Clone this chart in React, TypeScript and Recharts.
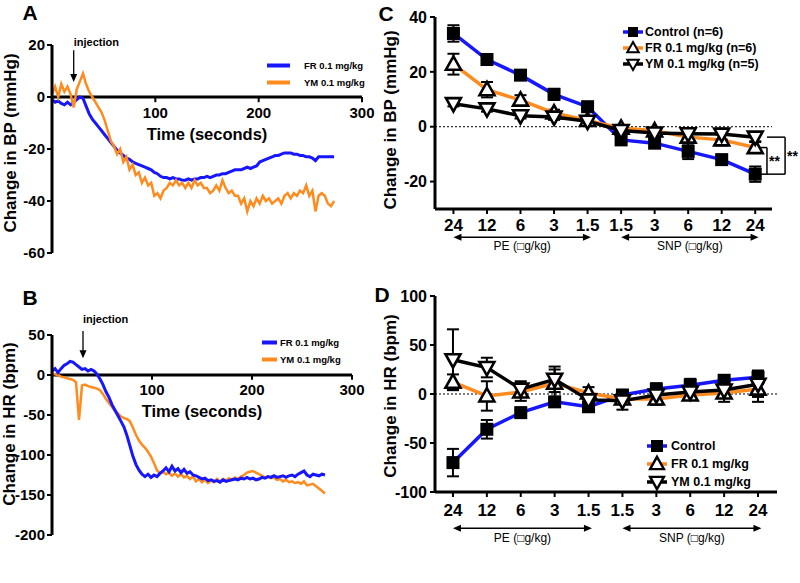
import React from "react";
import { ErrorBar, Legend, Line, LineChart, ReferenceLine, XAxis, YAxis } from "recharts";

const FONT = '"Liberation Sans", Arial, Helvetica, sans-serif';
const BLUE = "#1616ff";
const ORANGE = "#ff8b1e";
const BLACK = "#000";

// traces are sampled every 3 s: t = 0, 3, 6 ... 273
const SAMPLE_SEC = 3;

// A: change in BP (mmHg)
const bpTraceFR = [
  -1, -2, -1.5, -2.5, -3, -2, -3, -2, -1, 0,
  -0.5, -3.5, -6.5, -8.5, -10, -11.5, -13, -14.5, -16, -17.5,
  -19, -20.5, -21.5, -22.5, -23.5, -24, -25, -25.5, -26, -26.5,
  -27, -27.5, -28, -29, -29.5, -30.5, -31, -31, -31.5, -31,
  -31.5, -31.5, -32, -32, -31.5, -32, -31.5, -31.5, -31, -31,
  -30.5, -31, -30.5, -30, -30, -29.5, -29.5, -29, -28.5, -28,
  -28, -28, -27.5, -27, -27.5, -27, -26.5, -25, -24.5, -24,
  -23.5, -23, -22.5, -22.5, -22, -21.5, -21.5, -21.5, -22, -22,
  -22.5, -22.5, -23, -23, -23.5, -24.5, -23, -23, -23, -23,
  -23, -23,
];
const bpTraceYM = [
  1, 4, 0, 5, 2, 4, 1, -4, 3, 6,
  9, 5, 2, 0, -2, -4, -6, -9, -13, -17,
  -19, -22, -20, -25, -23, -28, -26, -30, -29, -33,
  -31, -34, -33, -38, -37, -39, -36, -35, -33, -34,
  -32, -34, -33, -35, -33, -35, -32, -34, -33, -35,
  -35, -37, -36, -34, -36, -32, -35, -37, -36, -38,
  -38, -41, -39, -44, -40, -42, -39, -41, -38, -40,
  -39, -41, -40, -39, -41, -38, -37, -39, -37, -38,
  -36, -37, -34, -38, -36, -44, -38, -37, -38, -41,
  -42, -40,
];

// B: change in HR (bpm)
const hrTraceFR = [
  5, 8, 3, 8, 12, 14, 17, 16, 13, 10,
  7, 8, 5, 7, 5, 1, -5, -12, -21, -28,
  -37, -44, -51, -58, -65, -76, -89, -102, -112, -119,
  -124, -127, -124, -128, -125, -127, -123, -120, -116, -121,
  -114, -120, -117, -122, -118, -123, -121, -125, -126, -128,
  -130, -129, -132, -131, -133, -132, -134, -131, -133, -132,
  -131, -130, -131, -129, -130, -128, -130, -129, -131, -130,
  -128, -129, -127, -128, -126, -128, -127, -126, -128, -126,
  -125, -127, -124, -122, -120, -125, -127, -124, -125, -126,
  -124, -125,
];
const hrTraceYM = [
  2, 1, 0, -2, -3, -4, -5, -6, -9, -56,
  -13, -12, -14, -15, -16, -17, -19, -24, -30, -35,
  -40, -45, -48, -52, -54, -55, -58, -66, -75, -82,
  -87, -91, -96, -102, -110, -119, -123, -121, -124, -122,
  -126, -123, -127, -124, -128, -126, -130, -127, -133, -130,
  -134, -131, -135, -132, -134, -130, -133, -130, -132, -129,
  -131, -128, -130, -127, -125, -122, -121, -120, -122, -124,
  -126, -128, -127, -129, -128, -131, -130, -133, -131, -134,
  -133, -135, -134, -136, -133, -138, -137, -136, -139, -142,
  -145, -148,
];

const timeTicks = [100, 200, 300];
const bpTraceTicks = [-60, -40, -20, 0, 20];
const hrTraceTicks = [-200, -150, -100, -50, 0, 50];

// C / D: dose response, mean and SEM
const doseLabels = ["24", "12", "6", "3", "1.5", "1.5", "3", "6", "12", "24"];
const doseGroups = ["PE (\u25A1g/kg)", "SNP (\u25A1g/kg)"];

const bpControl = [34, 24.5, 18.8, 11.8, 7.3, -4.8, -6, -9, -12, -17.3];
const bpControlSem = [3, 1.2, 1.5, 2, 1.2, 1.5, 1.5, 2.8, 1.5, 2.8];
const bpFR = [22.8, 13.5, 9.7, 5, 2.3, -0.5, -1.5, -3.8, -4.8, -7.6];
const bpFRSem = [3.8, 2.8, 1.8, 1.2, 1.2, 1, 1, 2, 2, 2];
const bpYM = [8.4, 6.5, 4, 3.5, 2, -1.4, -2.3, -2.6, -2.7, -3.8];
const bpYMSem = [1, 1, 1, 1, 1, 1, 1, 2, 2, 1.5];

const hrControl = [-70, -36, -19, -8, -13, -1, 5, 9, 14, 17];
const hrControlSem = [14, 9.5, 3, 3, 3, 3, 6, 6.5, 4, 7];
const hrFR = [12, -2, 2, 11, 1, -5, -5, -1, 1, 5];
const hrFRSem = [8, 15, 9, 14, 6, 4, 6, 5, 9, 13];
const hrYM = [35, 27, 5, 15, -6, -7, -1, 2, 4, 10];
const hrYMSem = [31, 10, 8, 13, 4, 9, 8, 6, 6, 13];

const bpDoseTicks = [-20, 0, 20, 40];
const hrDoseTicks = [-100, -50, 0, 50, 100];
const doseIdx = doseLabels.map((_, i) => i);

type MarkerKind = "square" | "up" | "down";
type LegendItem = { label: string; color: string; marker?: MarkerKind };

const traceLegend: LegendItem[] = [
  { label: "FR 0.1 mg/kg", color: BLUE },
  { label: "YM 0.1 mg/kg", color: ORANGE },
];
const bpDoseLegend: LegendItem[] = [
  { label: "Control (n=6)", color: BLUE, marker: "square" },
  { label: "FR 0.1 mg/kg (n=6)", color: ORANGE, marker: "up" },
  { label: "YM 0.1 mg/kg (n=5)", color: BLACK, marker: "down" },
];
const hrDoseLegend: LegendItem[] = [
  { label: "Control", color: BLUE, marker: "square" },
  { label: "FR 0.1 mg/kg", color: ORANGE, marker: "up" },
  { label: "YM 0.1 mg/kg", color: BLACK, marker: "down" },
];

function Marker({ kind, cx, cy, r }: { kind: MarkerKind; cx: number; cy: number; r: number }) {
  if (kind === "square") {
    return <rect x={cx - r} y={cy - r} width={2 * r} height={2 * r} fill={BLACK} />;
  }
  const s = kind === "up" ? 1 : -1;
  const pts = `${cx},${cy - s * r * 1.2} ${cx + r * 1.15},${cy + s * r * 0.85} ${cx - r * 1.15},${cy + s * r * 0.85}`;
  return <polygon points={pts} fill="#fff" stroke={BLACK} strokeWidth={r * 0.4} strokeLinejoin="miter" />;
}

function LegendList(props: {
  items: LegendItem[];
  swatch: number;
  gap: number;
  row: number;
  fontSize: number;
  lineWidth: number;
  markerR?: number;
}) {
  const { items, swatch, gap, row, fontSize, lineWidth, markerR = 5 } = props;
  return (
    <div style={{ fontFamily: FONT, fontWeight: "bold", fontSize, color: BLACK }}>
      {items.map((it) => (
        <div key={it.label} style={{ display: "flex", alignItems: "center", height: row, whiteSpace: "nowrap" }}>
          <svg width={swatch} height={row} style={{ marginRight: gap, overflow: "visible" }}>
            <line x1={0} x2={swatch} y1={row / 2} y2={row / 2} stroke={it.color} strokeWidth={lineWidth} />
            {it.marker && <Marker kind={it.marker} cx={swatch / 2} cy={row / 2} r={markerR} />}
          </svg>
          <span>{it.label}</span>
        </div>
      ))}
    </div>
  );
}

const arrowHead = (gap: number) => (p: any) => {
  const x = p.x1;
  const top = Math.min(p.y1, p.y2);
  const tip = Math.max(p.y1, p.y2);
  return (
    <g>
      <line x1={x} y1={top} x2={x} y2={tip - 6} stroke={BLACK} strokeWidth={1.3} />
      <polygon points={`${x - 3.5},${tip - 8} ${x + 3.5},${tip - 8} ${x},${tip}`} fill={BLACK} />
      <text x={x} y={top - gap} fontSize={11} fontWeight="bold" fill={BLACK}>
        injection
      </text>
    </g>
  );
};

const DoseArrow = (p: any) => {
  const x1 = Math.min(p.x1, p.x2);
  const x2 = Math.max(p.x1, p.x2);
  const y = p.y1;
  return (
    <g>
      <line x1={x1 + 6} y1={y} x2={x2 - 6} y2={y} stroke={BLACK} strokeWidth={1.3} />
      <polygon points={`${x1},${y} ${x1 + 8},${y - 3.5} ${x1 + 8},${y + 3.5}`} fill={BLACK} />
      <polygon points={`${x2},${y} ${x2 - 8},${y - 3.5} ${x2 - 8},${y + 3.5}`} fill={BLACK} />
    </g>
  );
};

type Margin = { top: number; right: number; bottom: number; left: number };

function TraceChart(p: {
  fr: number[];
  ym: number[];
  height: number;
  margin: Margin;
  yDomain: [number, number];
  yTicks: number[];
  tickDrop: number;
  timeLabelOffset: number;
  injection: { t: number; from: number; to: number; gap: number };
  legend: { left: number; top: number; swatch: number; gap: number };
  blueOnTop?: boolean;
}) {
  const rows = p.fr.map((v, i) => ({ t: i * SAMPLE_SEC, fr: v, ym: p.ym[i] }));
  const blue = <Line key="fr" dataKey="fr" stroke={BLUE} strokeWidth={3} dot={false} activeDot={false} isAnimationActive={false} />;
  const orange = <Line key="ym" dataKey="ym" stroke={ORANGE} strokeWidth={2.5} dot={false} activeDot={false} isAnimationActive={false} />;
  return (
    <LineChart width={400} height={p.height} data={rows} margin={p.margin}>
      <XAxis dataKey="t" type="number" domain={[0, 300]} allowDataOverflow hide />
      <YAxis
        domain={p.yDomain}
        ticks={p.yTicks}
        interval={0}
        allowDataOverflow
        width={52}
        axisLine={{ stroke: BLACK, strokeWidth: 3 }}
        tickLine={{ stroke: BLACK, strokeWidth: 2 }}
        tickSize={5}
        tickMargin={2}
        tick={{ fill: BLACK, fontSize: 15, fontWeight: "bold" }}
      />
      <ReferenceLine
        y={0}
        stroke={BLACK}
        strokeWidth={3}
        label={{ value: "Time (seconds)", position: "bottom", offset: p.timeLabelOffset, fill: BLACK, fontSize: 16.5, fontWeight: "bold" }}
      />
      {timeTicks.map((v) => (
        <ReferenceLine
          key={v}
          segment={[{ x: v, y: 0 }, { x: v, y: -p.tickDrop }]}
          ifOverflow="visible"
          stroke={BLACK}
          strokeWidth={2}
          label={{ value: String(v), position: "bottom", offset: 5, fill: BLACK, fontSize: 15, fontWeight: "bold" }}
        />
      ))}
      <ReferenceLine
        segment={[{ x: p.injection.t, y: p.injection.from }, { x: p.injection.t, y: p.injection.to }]}
        ifOverflow="visible"
        shape={arrowHead(p.injection.gap)}
      />
      {p.blueOnTop ? [orange, blue] : [blue, orange]}
      <Legend
        layout="vertical"
        align="center"
        verticalAlign="middle"
        wrapperStyle={{ left: p.legend.left, top: p.legend.top, width: "auto", height: "auto" }}
        content={() => (
          <LegendList items={traceLegend} swatch={p.legend.swatch} gap={p.legend.gap} row={17} fontSize={9.5} lineWidth={4} />
        )}
      />
    </LineChart>
  );
}

function DoseChart(p: {
  height: number;
  margin: Margin;
  yDomain: [number, number];
  yTicks: number[];
  xDomain: [number, number];
  control: number[];
  controlSem: number[];
  fr: number[];
  frSem: number[];
  ym: number[];
  ymSem: number[];
  arrowY: number;
  labelOffset: number;
  xTickMargin: number;
  legendItems: LegendItem[];
  legend: { left: number; top: number; swatch: number; gap: number; row: number; markerR: number };
  brackets?: boolean;
}) {
  const rows = doseLabels.map((_, i) => ({
    i,
    control: p.control[i],
    controlSem: p.controlSem[i],
    fr: p.fr[i],
    frSem: p.frSem[i],
    ym: p.ym[i],
    ymSem: p.ymSem[i],
  }));
  const last = doseLabels.length - 1;
  const brackets = [
    { top: p.fr[last], bottom: p.control[last], stub: 9.17, bar: 9.35 },
    { top: p.ym[last], bottom: p.control[last], stub: 9.35, bar: 9.89 },
  ];
  const series: { key: "control" | "fr" | "ym"; color: string; marker: MarkerKind }[] = [
    { key: "control", color: BLUE, marker: "square" },
    { key: "fr", color: ORANGE, marker: "up" },
    { key: "ym", color: BLACK, marker: "down" },
  ];
  return (
    <LineChart width={420} height={p.height} data={rows} margin={p.margin}>
      <XAxis
        dataKey="i"
        type="number"
        domain={p.xDomain}
        ticks={doseIdx}
        interval={0}
        allowDataOverflow
        tickFormatter={(v: number) => doseLabels[v]}
        axisLine={{ stroke: BLACK, strokeWidth: 3 }}
        tickLine={{ stroke: BLACK, strokeWidth: 2 }}
        tickSize={5}
        tickMargin={p.xTickMargin}
        tick={{ fill: BLACK, fontSize: 17, fontWeight: "bold" }}
      />
      <YAxis
        domain={p.yDomain}
        ticks={p.yTicks}
        interval={0}
        allowDataOverflow
        width={55}
        axisLine={{ stroke: BLACK, strokeWidth: 3 }}
        tickLine={{ stroke: BLACK, strokeWidth: 2 }}
        tickSize={5}
        tickMargin={3}
        tick={{ fill: BLACK, fontSize: 16, fontWeight: "bold" }}
      />
      <ReferenceLine y={0} stroke={BLACK} strokeWidth={1} strokeDasharray="2 2" />
      <ReferenceLine
        segment={[{ x: 0, y: p.arrowY }, { x: 4.1, y: p.arrowY }]}
        ifOverflow="visible"
        shape={DoseArrow}
        label={{ value: doseGroups[0], position: "bottom", offset: p.labelOffset, fill: BLACK, fontSize: 12 }}
      />
      <ReferenceLine
        segment={[{ x: 5, y: p.arrowY }, { x: 9.1, y: p.arrowY }]}
        ifOverflow="visible"
        shape={DoseArrow}
        label={{ value: doseGroups[1], position: "bottom", offset: p.labelOffset, fill: BLACK, fontSize: 12 }}
      />
      {p.brackets &&
        brackets.map((b, k) => [
          <ReferenceLine key={`t${k}`} segment={[{ x: b.stub, y: b.top }, { x: b.bar, y: b.top }]} ifOverflow="visible" stroke={BLACK} strokeWidth={1.5} />,
          <ReferenceLine
            key={`v${k}`}
            segment={[{ x: b.bar, y: b.top }, { x: b.bar, y: b.bottom }]}
            ifOverflow="visible"
            stroke={BLACK}
            strokeWidth={1.5}
            label={{ value: "**", position: "right", offset: 2, fill: BLACK, fontSize: 14, fontWeight: "bold" }}
          />,
          <ReferenceLine key={`b${k}`} segment={[{ x: b.stub, y: b.bottom }, { x: b.bar, y: b.bottom }]} ifOverflow="visible" stroke={BLACK} strokeWidth={1.5} />,
        ])}
      {series.map((s) => (
        <Line
          key={s.key}
          dataKey={s.key}
          stroke={s.color}
          strokeWidth={3.5}
          isAnimationActive={false}
          activeDot={false}
          dot={(d: any) => <Marker key={`${s.key}${d.index}`} kind={s.marker} cx={d.cx} cy={d.cy} r={6.5} />}
        >
          <ErrorBar dataKey={`${s.key}Sem`} direction="y" width={6} stroke={BLACK} strokeWidth={2} />
        </Line>
      ))}
      <Legend
        layout="vertical"
        align="center"
        verticalAlign="middle"
        wrapperStyle={{ left: p.legend.left, top: p.legend.top, width: "auto", height: "auto" }}
        content={() => (
          <LegendList
            items={p.legendItems}
            swatch={p.legend.swatch}
            gap={p.legend.gap}
            row={p.legend.row}
            fontSize={12.5}
            lineWidth={3.5}
            markerR={p.legend.markerR}
          />
        )}
      />
    </LineChart>
  );
}

const yTitle = (cx: number, cy: number): React.CSSProperties => ({
  position: "absolute",
  left: cx,
  top: cy,
  transform: "translate(-50%, -50%) rotate(-90deg)",
  whiteSpace: "nowrap",
  fontSize: 17,
  fontWeight: "bold",
});
const letter = (cx: number, cy: number): React.CSSProperties => ({
  position: "absolute",
  left: cx,
  top: cy,
  transform: "translate(-50%, -50%)",
  fontSize: 21,
  fontWeight: "bold",
  lineHeight: 1,
});

export default function App() {
  return (
    <div
      style={{
        position: "absolute",
        left: 0,
        top: 0,
        width: 800,
        height: 583,
        background: "#fff",
        fontFamily: FONT,
        color: BLACK,
        overflow: "hidden",
      }}
    >
      <div style={{ position: "absolute", left: 0, top: 0 }}>
        <TraceChart
          fr={bpTraceFR}
          ym={bpTraceYM}
          height={290}
          margin={{ top: 45, right: 38, bottom: 37, left: 0 }}
          yDomain={[-60, 20]}
          yTicks={bpTraceTicks}
          tickDrop={2}
          timeLabelOffset={31}
          injection={{ t: 21, from: 18, to: 5.8, gap: 4 }}
          legend={{ left: 267, top: 56.5, swatch: 23, gap: 14 }}
        />
      </div>
      <div style={{ position: "absolute", left: 0, top: 290 }}>
        <TraceChart
          fr={hrTraceFR}
          ym={hrTraceYM}
          height={293}
          margin={{ top: 45, right: 48, bottom: 48, left: 0 }}
          yDomain={[-200, 50]}
          yTicks={hrTraceTicks}
          tickDrop={6}
          timeLabelOffset={30}
          injection={{ t: 31, from: 55, to: 21, gap: 8 }}
          legend={{ left: 262, top: 43.5, swatch: 15, gap: 3 }}
          blueOnTop
        />
      </div>
      <div style={{ position: "absolute", left: 380, top: 0 }}>
        <DoseChart
          height={290}
          margin={{ top: 17, right: 28, bottom: 51, left: 0 }}
          yDomain={[-30, 40]}
          yTicks={bpDoseTicks}
          xDomain={[-0.55, 9.5]}
          control={bpControl}
          controlSem={bpControlSem}
          fr={bpFR}
          frSem={bpFRSem}
          ym={bpYM}
          ymSem={bpYMSem}
          arrowY={-40.3}
          labelOffset={4}
          xTickMargin={5}
          legendItems={bpDoseLegend}
          legend={{ left: 243, top: 24, swatch: 20, gap: 2, row: 16, markerR: 5 }}
          brackets
        />
      </div>
      <div style={{ position: "absolute", left: 380, top: 282 }}>
        <DoseChart
          height={301}
          margin={{ top: 14, right: 23, bottom: 61, left: 0 }}
          yDomain={[-100, 100]}
          yTicks={hrDoseTicks}
          xDomain={[-0.53, 9.56]}
          control={hrControl}
          controlSem={hrControlSem}
          fr={hrFR}
          frSem={hrFRSem}
          ym={hrYM}
          ymSem={hrYMSem}
          arrowY={-137}
          labelOffset={5}
          xTickMargin={7}
          legendItems={hrDoseLegend}
          legend={{ left: 267, top: 155, swatch: 20, gap: 4, row: 18, markerR: 6 }}
        />
      </div>
      <div style={yTitle(11, 143)}>Change in BP (mmHg)</div>
      <div style={yTitle(10, 424)}>Change in HR (bpm)</div>
      <div style={yTitle(391, 120)}>Change in BP (mmHg)</div>
      <div style={yTitle(391, 396)}>Change in HR (bpm)</div>
      <div style={letter(30, 12)}>A</div>
      <div style={letter(30, 297)}>B</div>
      <div style={letter(386, 13)}>C</div>
      <div style={letter(382, 294)}>D</div>
    </div>
  );
}
